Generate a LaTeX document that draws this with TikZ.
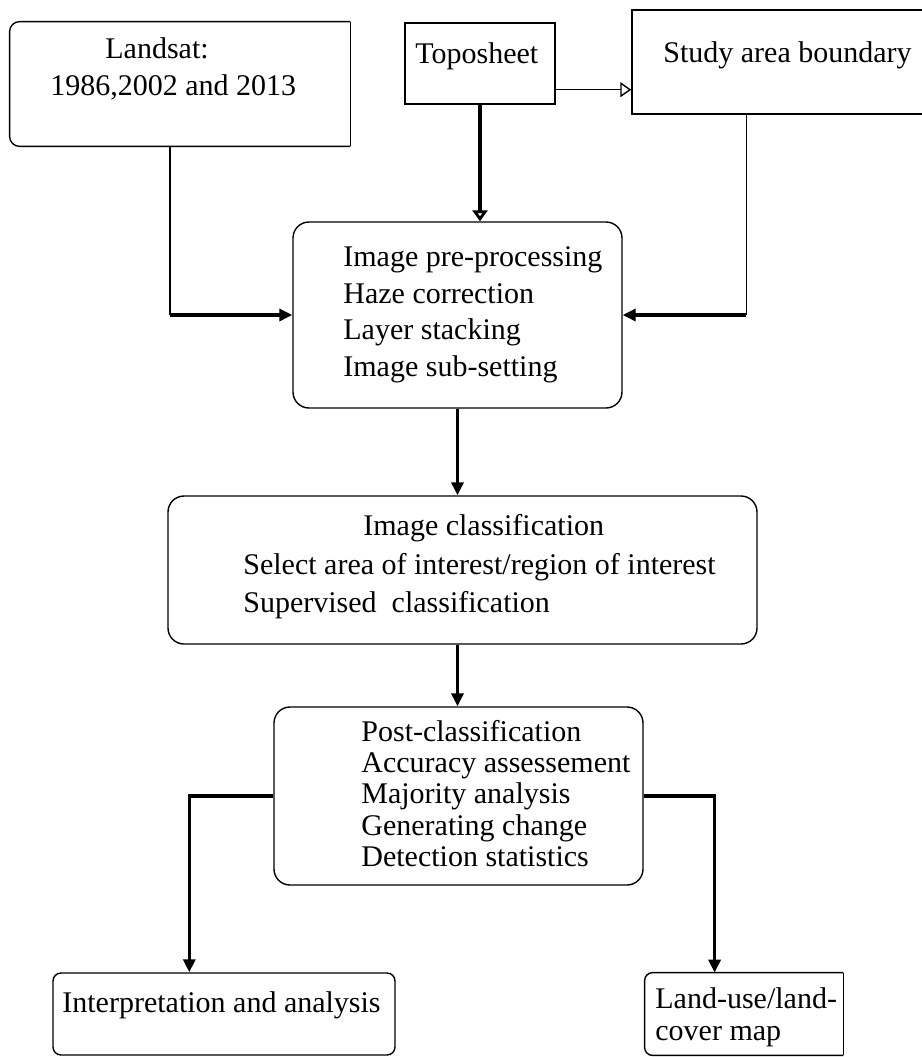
\documentclass[tikz,border=0pt]{standalone}
\usepackage{fontspec}
\setmainfont{Liberation Serif}
\usetikzlibrary{arrows.meta,positioning,calc}

\begin{document}
\begin{tikzpicture}[x=0.5pt,y=-0.5pt,
    box/.style={draw,line width=.7pt,inner sep=0pt},
    rbox/.style={box,rounded corners=8pt},
    txt/.style={inner sep=0pt,anchor=north west,align=left,font=\fontsize{15}{18.4}\selectfont},
    lean/.style={line width=.7pt},
    heavy/.style={line width=1.7pt},
    fillhead/.style={-{Triangle[length=6.5pt,width=6pt]}},
    openhead/.style={-{Triangle[open,length=5.5pt,width=7.5pt]}}]
    \fill[white] (0,0) rectangle (922,1057);
    \useasboundingbox (0,0) rectangle (922,1057);
    % boxes
    \node[minimum width=170pt,minimum height=62pt,inner sep=0pt] (landsat) at (180,84) {};
    \draw[lean,rounded corners=5pt] (landsat.north east) -- (landsat.north west) -- (landsat.south west) -- (landsat.south east);
    \draw[lean] (landsat.north east) -- (landsat.south east);
    \node[box,minimum width=75pt,minimum height=40.5pt] (topo) at (480,63.5) {};
    \node[box,minimum width=162pt,minimum height=52pt] (study) at (794,62) {};
    \node[rbox,minimum width=164.5pt,minimum height=93pt] (prep) at (457.5,315) {};
    \node[rbox,minimum width=294.5pt,minimum height=74pt] (classif) at (462.5,570) {};
    \node[rbox,minimum width=184.5pt,minimum height=89pt] (post) at (458.5,796) {};
    \node[rbox,rounded corners=4pt,minimum width=171pt,minimum height=41pt] (interp) at (224,1014) {};
    \node[minimum width=99pt,minimum height=41pt,inner sep=0pt] (lulc) at (744,1014) {};
    \draw[lean,rounded corners=4pt] (lulc.north east) -- (lulc.north west) -- (lulc.south west) -- (lulc.south east);
    \draw[lean] (lulc.north east) -- (lulc.south east);
    % texts
    \node[txt] (landsat-t) at (50,37) {\hspace*{27.5pt}Landsat:\\1986,2002 and 2013};
    \node[txt] (topo-t) at (415,42) {Toposheet};
    \node[txt] (study-t) at (663,41) {Study area boundary};
    \node[txt] (prep-t) at (343,246) {Image pre-processing\\Haze correction\\Layer stacking\\Image sub-setting};
    \node[txt,font=\fontsize{15}{19.25}\selectfont] (classif-t) at (243,514) {\hspace*{60pt}Image classification\\Select area of interest/region of interest\\Supervised\ \ classification};
    \node[txt,font=\fontsize{15}{15.6}\selectfont] (post-t) at (361,720) {Post-classification\\Accuracy assessement\\Majority analysis\\Generating change\\Detection statistics};
    \node[txt] (interp-t) at (62,991) {Interpretation and analysis};
    \node[txt,font=\fontsize{15}{16}\selectfont] (lulc-t) at (655,987) {Land-use/land-\\cover map};
    % connectors
    \coordinate (ldrop) at ($(landsat.south)+(-10,0)$);
    \draw[lean] (ldrop) -- (ldrop |- prep.west) coordinate (lbend);
    \draw[heavy,fillhead] (lbend) -- (prep.west);
    \draw[heavy,openhead] (topo.south) -- (topo.south |- prep.north);
    \coordinate (tout) at ($(topo.south east)+(0,-15)$);
    \draw[lean,openhead] (tout) -- (tout -| study.west);
    \coordinate (sdrop) at ($(study.south west)+(115,0)$);
    \draw[lean] (sdrop) -- (sdrop |- prep.east) coordinate (sbend);
    \draw[heavy,fillhead] (sbend) -- (prep.east);
    \draw[heavy,fillhead] (prep.south) -- (prep.south |- classif.north);
    \draw[heavy,fillhead] (prep.south |- classif.south) -- (prep.south |- post.north);
    \coordinate (iin) at ($(interp.north west)+(137,0)$);
    \draw[heavy,fillhead] (post.west) -| (iin);
    \coordinate (lin) at ($(lulc.north west)+(70,0)$);
    \draw[heavy,fillhead] (post.east) -| (lin);
\end{tikzpicture}
\end{document}
